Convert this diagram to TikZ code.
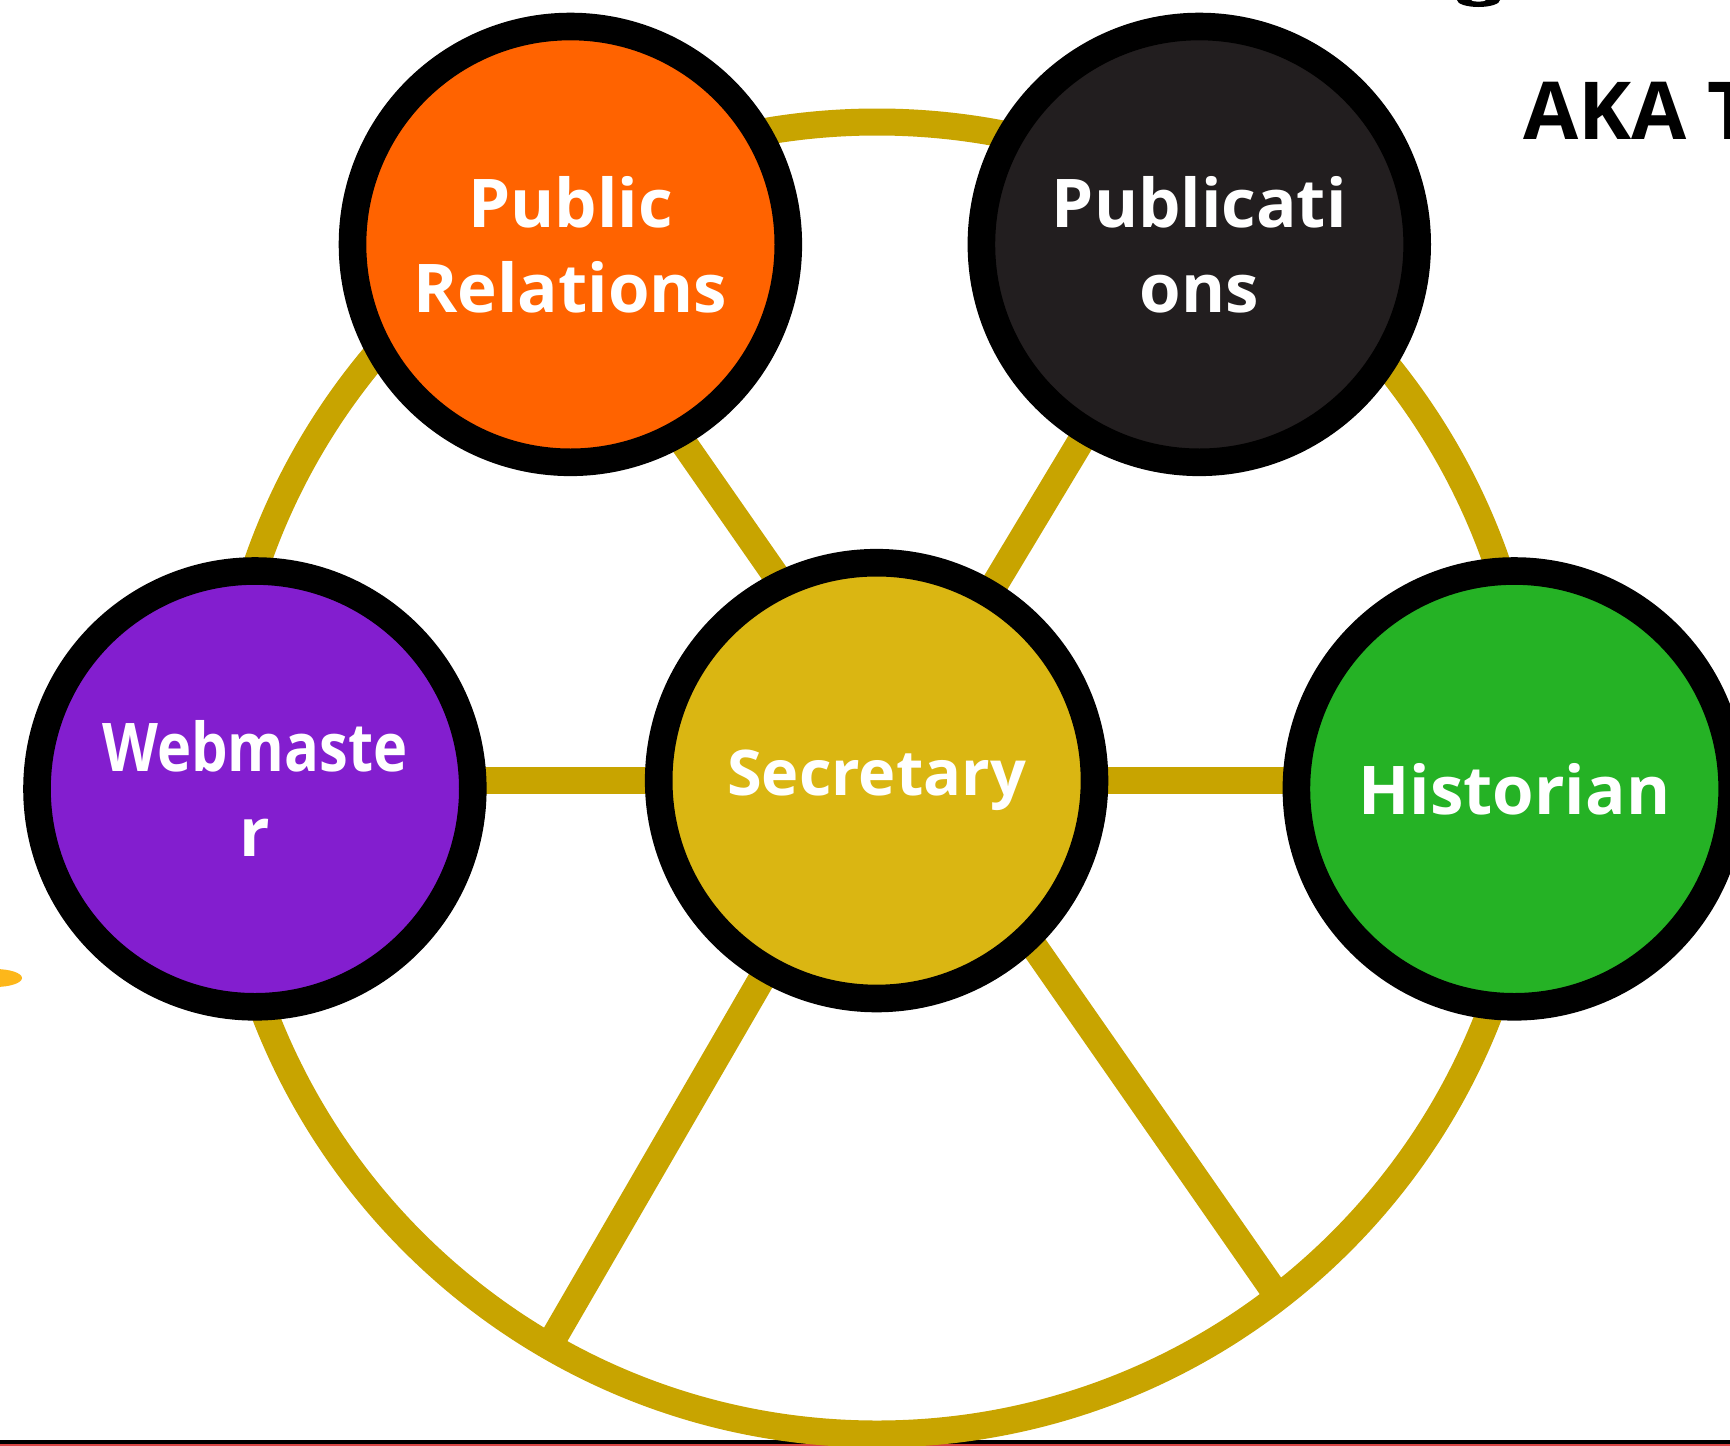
\documentclass[tikz,border=0pt]{standalone}
\usepackage{fontspec}
\setmainfont{Open Sans}
\pgfdeclarelayer{background}
\pgfsetlayers{background,main}
\definecolor{ringgold}{HTML}{C8A400}
\definecolor{secgold}{HTML}{DAB612}
\definecolor{prorange}{HTML}{FF6300}
\definecolor{pubblack}{HTML}{221E1F}
\definecolor{webpurple}{HTML}{831ECF}
\definecolor{histgreen}{HTML}{25B225}
\definecolor{blobyellow}{HTML}{FDB71A}
\definecolor{stripered}{HTML}{D94545}
\begin{document}
\begin{tikzpicture}[x=0.5pt,y=-0.5pt,
  member/.style={circle, draw=black, line width=13.8pt, minimum size=217.9pt,
    inner sep=0pt, text=white, align=center,
    font=\fontsize{33.6pt}{42.5pt}\selectfont\bfseries},
  spoke/.style={draw=ringgold, line width=13.5pt},
  ringline/.style={draw=ringgold, line width=13.5pt}]
\useasboundingbox (0,0) rectangle (1730,1446);

% nodes
\node[member, fill=prorange] (pr) at (570.4,244.4) {Public\\Relations};
\node[member, fill=pubblack] (pub) at (1199.3,244.4) {Publicati\\ons};
\node[member, fill=webpurple] (web) at (254.9,788.9) {\scalebox{0.86}[1]{Webmaste}\\r};
\node[member, fill=secgold, font=\fontsize{31.5pt}{40pt}\selectfont\bfseries] (sec) at (876.6,780.6) {Secretary};
\node[member, fill=histgreen] (hist) at (1514.3,788.9) {Historian};

\node[anchor=base west, inner sep=0pt, text=black,
  font=\fontsize{40pt}{48pt}\selectfont\bfseries] (aka) at (1523,139) {AKA T};

\coordinate (ringc) at (877,778);
\coordinate (llend) at (549,1346);
\coordinate (diagstart) at (545,244);
\coordinate (lrend) at (1274,1291);

\begin{pgfonlayer}{background}
  \fill[white] (0,0) rectangle (1730,1446);
  % bottom stripes
  \fill[black] (0,1440) rectangle (1730,1444);
  \fill[stripered] (0,1444) rectangle (1730,1446);
  % partial glyph at top and blob at left
  \fill[black] (1478.5,0) ellipse [x radius=10.75pt, y radius=3.5pt];
  \fill[white] (1478.5,0) ellipse [x radius=3.5pt, y radius=0.8pt];
  \fill[blobyellow] (-5,978) ellipse [x radius=13.5pt, y radius=4.5pt];
  % big ring
  \draw[ringline] (ringc) circle [radius=328pt];
  % spokes
  \draw[spoke] (diagstart) -- (lrend);
  \draw[spoke] (pub.center) -- (sec.center);
  \draw[spoke] (web.center |- sec.center) -- (sec.center);
  \draw[spoke] (sec.center) -- (hist.center |- sec.center);
  \draw[spoke] (sec.center) -- (llend);
\end{pgfonlayer}
\end{tikzpicture}
\end{document}
